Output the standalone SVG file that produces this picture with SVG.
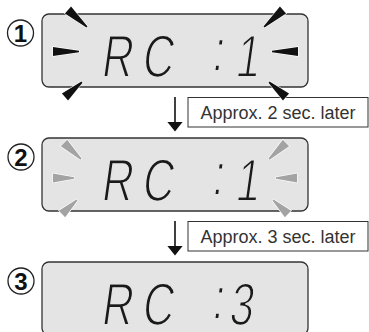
<svg xmlns="http://www.w3.org/2000/svg" xmlns:xlink="http://www.w3.org/1999/xlink" width="369" height="332" viewBox="0 0 369 332">
<style>
.panel{fill:#e4e4e4;stroke:#333;stroke-width:1.3}
.badge{fill:#fff;stroke:#222;stroke-width:1.3}
.bnum{font-family:"Liberation Sans",Arial,sans-serif;font-weight:bold;font-size:24px;fill:#111;text-anchor:middle}
.lcd{font-family:"Liberation Sans",Arial,sans-serif;font-size:60px;fill:#1a1a1a;stroke:#e4e4e4;stroke-width:1.8;paint-order:fill}
.ray1{fill:#111;stroke:#fff;stroke-width:1.2;paint-order:stroke}
.ray2{fill:#a3a3a3;stroke:#fff;stroke-width:1.2;paint-order:stroke}
.lbl{fill:#fff;stroke:#333;stroke-width:1}
.lbltxt{font-family:"Liberation Sans",Arial,sans-serif;font-size:18px;fill:#333}
.conn{stroke:#111;stroke-width:1.6;fill:none}
</style>
<defs>
<polygon id="w" points="0,-4.6 26,-0.8 26,0.8 0,4.6"/>
<marker id="ah" viewBox="0 0 10 16" refX="3.5" refY="8" markerWidth="10" markerHeight="16" markerUnits="userSpaceOnUse" orient="auto">
<path d="M0,0 L10,8 L0,16 z" fill="#111"/>
</marker>
</defs>

<g id="connectors">
<line class="conn" x1="175" y1="97" x2="175" y2="125" marker-end="url(#ah)"/>
<line class="conn" x1="175" y1="221" x2="175" y2="249" marker-end="url(#ah)"/>
</g>

<g id="label1">
<rect class="lbl" x="188" y="97.5" width="180" height="29.5"/>
<text class="lbltxt" x="200.5" y="119.3">Approx. 2 sec. later</text>
</g>
<g id="label2">
<rect class="lbl" x="188" y="221.5" width="180" height="29.5"/>
<text class="lbltxt" x="200.5" y="243.3">Approx. 3 sec. later</text>
</g>

<g id="step1">
<circle class="badge" cx="20.5" cy="33" r="13"/>
<text class="bnum" x="20.5" y="41.6">1</text>
<rect class="panel" x="42" y="14" width="266" height="73" rx="7"/>
<text class="lcd" transform="translate(103,77) skewX(-8) scale(0.72,1)" x="-4 52.5 100 148.6 182.4" dy="0 0 0 -6 6">RC :1</text>
<g class="ray1">
<use xlink:href="#w" transform="translate(68,10) rotate(41.8) scale(0.98,1)"/>
<use xlink:href="#w" transform="translate(53,51.5)"/>
<use xlink:href="#w" transform="translate(65,97) rotate(-41.4) scale(0.87,1)"/>
<use xlink:href="#w" transform="translate(283,10) rotate(138.2) scale(0.98,1)"/>
<use xlink:href="#w" transform="translate(298,51.5) rotate(180)"/>
<use xlink:href="#w" transform="translate(286,97) rotate(-138.6) scale(0.87,1)"/>
</g>
</g>

<g id="step2">
<circle class="badge" cx="21" cy="157" r="13"/>
<text class="bnum" x="21" y="165.6">2</text>
<rect class="panel" x="42" y="138" width="266" height="73" rx="7"/>
<text class="lcd" transform="translate(103,201) skewX(-8) scale(0.72,1)" x="-4 52.5 100 148.6 182.4" dy="0 0 0 -6 6">RC :1</text>
<g class="ray2">
<use xlink:href="#w" transform="translate(64,143) rotate(43.3) scale(0.9,1)"/>
<use xlink:href="#w" transform="translate(53,178) scale(0.81,1)"/>
<use xlink:href="#w" transform="translate(62,214) rotate(-43) scale(0.79,1)"/>
<use xlink:href="#w" transform="translate(286,143) rotate(136.7) scale(0.9,1)"/>
<use xlink:href="#w" transform="translate(297,178) rotate(180) scale(0.81,1)"/>
<use xlink:href="#w" transform="translate(288,214) rotate(-137) scale(0.79,1)"/>
</g>
</g>

<g id="step3">
<circle class="badge" cx="21" cy="281" r="13"/>
<text class="bnum" x="21" y="289.6">3</text>
<rect class="panel" x="42" y="262" width="266" height="73" rx="7"/>
<text class="lcd" transform="translate(103,325) skewX(-8) scale(0.72,1)" x="-4 52.5 100 148.6 173.7" dy="0 0 0 -6 6">RC :3</text>
</g>
</svg>
